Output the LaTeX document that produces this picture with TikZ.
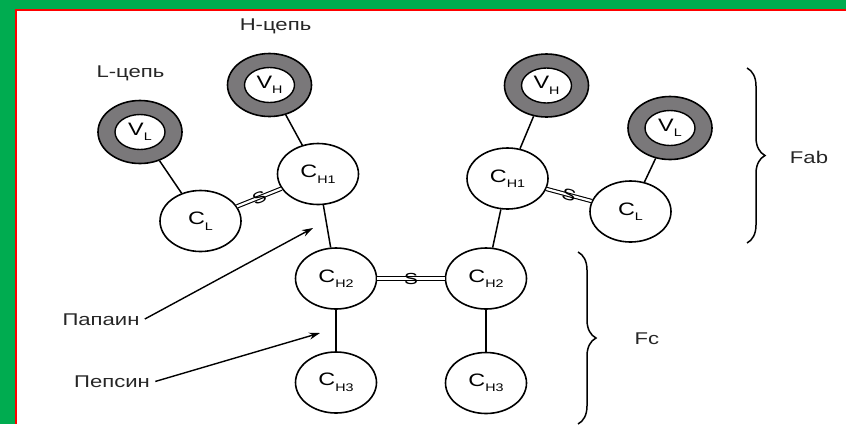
\documentclass[tikz,border=0pt]{standalone}
\usepackage{fontspec}
\setmainfont{Liberation Sans}[FakeStretch=1.3]
\usetikzlibrary{shapes.geometric,arrows.meta,decorations.pathreplacing}
\definecolor{framegreen}{RGB}{0,172,80}
\definecolor{ringgray}{RGB}{122,120,122}
\newcommand\dsub[1]{\raisebox{-5.5pt}{\fontsize{11}{11}\selectfont #1}}
\begin{document}
\begin{tikzpicture}[x=1pt,y=-1pt,
  dom/.style={ellipse, draw, line width=1.6pt, minimum width=81pt, minimum height=61pt,
              inner sep=0pt, fill=white, font=\fontsize{18}{18}\selectfont},
  ring/.style={ellipse, draw, line width=1.6pt, minimum width=84pt, minimum height=63pt,
               inner sep=0pt, fill=ringgray},
  hole/.style={ellipse, draw, line width=1.4pt, minimum width=50pt, minimum height=35pt,
               inner sep=0pt, fill=white, font=\fontsize{18}{18}\selectfont},
  link/.style={line width=1.5pt},
  ssbond/.style={double, double distance=2.2pt, line width=1.1pt},
  sslabel/.style={sloped, inner sep=0pt, font=\fontsize{16}{16}\selectfont},
  lbl/.style={font=\fontsize{17}{17}\selectfont, text=black!85},
  cut/.style={line width=1.4pt, -{Stealth[length=11pt,width=7pt]}},
  brc/.style={decorate, decoration={brace, amplitude=18pt}, line width=1.5pt},
]
\useasboundingbox (0,0) rectangle (846,424);

% frame
\fill[framegreen] (0,0) rectangle (846,8.5);
\fill[framegreen] (0,0) rectangle (14.5,424);
\fill[red] (14.5,8.5) rectangle (846,10.5);
\fill[red] (14.5,8.5) rectangle (16.5,424);

% variable domains (shaded rings)
\node[ring] (vlL) at (140,132) {};
\node[hole] (vlLi) at (vlL) {V\dsub{L}};
\node[ring] (vhL) at (269.5,85) {};
\node[hole] (vhLi) at (vhL) {V\dsub{H}};
\node[ring] (vhR) at (546.5,85.5) {};
\node[hole] (vhRi) at (vhR) {V\dsub{H}};
\node[ring] (vlR) at (670,128) {};
\node[hole] (vlRi) at (vlR) {V\dsub{L}};

% constant domains
\node[dom] (clL)  at (200.5,221) {C\dsub{L}};
\node[dom] (ch1L) at (318,174)   {C\dsub{H1}};
\node[dom] (ch2L) at (336,278.5) {C\dsub{H2}};
\node[dom] (ch3L) at (336,382.5) {C\dsub{H3}};
\node[dom] (ch1R) at (507.5,178.5) {C\dsub{H1}};
\node[dom] (clR)  at (630.5,211.5) {C\dsub{L}};
\node[dom] (ch2R) at (486,278.5) {C\dsub{H2}};
\node[dom] (ch3R) at (486,383)   {C\dsub{H3}};

% chain links
\draw[link] (vlL) -- (clL);
\draw[link] (vhL) -- (ch1L);
\draw[link] (ch1L) -- (ch2L);
\draw[link] (ch2L) -- (ch3L);
\draw[link] (vhR) -- (ch1R);
\draw[link] (vlR) -- (clR);
\draw[link] (ch1R) -- (ch2R);
\draw[link] (ch2R) -- (ch3R);

% disulfide bridges
\draw[ssbond] (clL) -- node[sslabel] {S} (ch1L);
\draw[ssbond] (ch1R) -- node[sslabel] {S} (clR);
\draw[ssbond] (ch2L) -- node[sslabel] {S} (ch2R);

% chain labels
\node[lbl] (lchain) at (130.5,73) {L-цепь};
\node[lbl] (hchain) at (275.5,26) {H-цепь};

% enzyme cleavage sites
\node[lbl] (pap) at (101,320) {Папаин};
\node[lbl] (pep) at (112,382) {Пепсин};
\coordinate (papTip) at (313,228);
\coordinate (pepTip) at (320,333);
\draw[cut, shorten <=2pt] (pap.east) -- (papTip);
\draw[cut, shorten <=2pt] (pep.east) -- (pepTip);

% fragment braces
\coordinate (fabTop) at (747,68);
\coordinate (fabBot) at (747,243);
\coordinate (fcTop) at (578,252);
\coordinate (fcBot) at (578,424);
\draw[brc] (fabTop) -- (fabBot);
\draw[brc] (fcTop) -- (fcBot);
\node[lbl] (fab) at (809,157) {Fab};
\node[lbl] (fc) at (647,339) {Fc};
\end{tikzpicture}
\end{document}
